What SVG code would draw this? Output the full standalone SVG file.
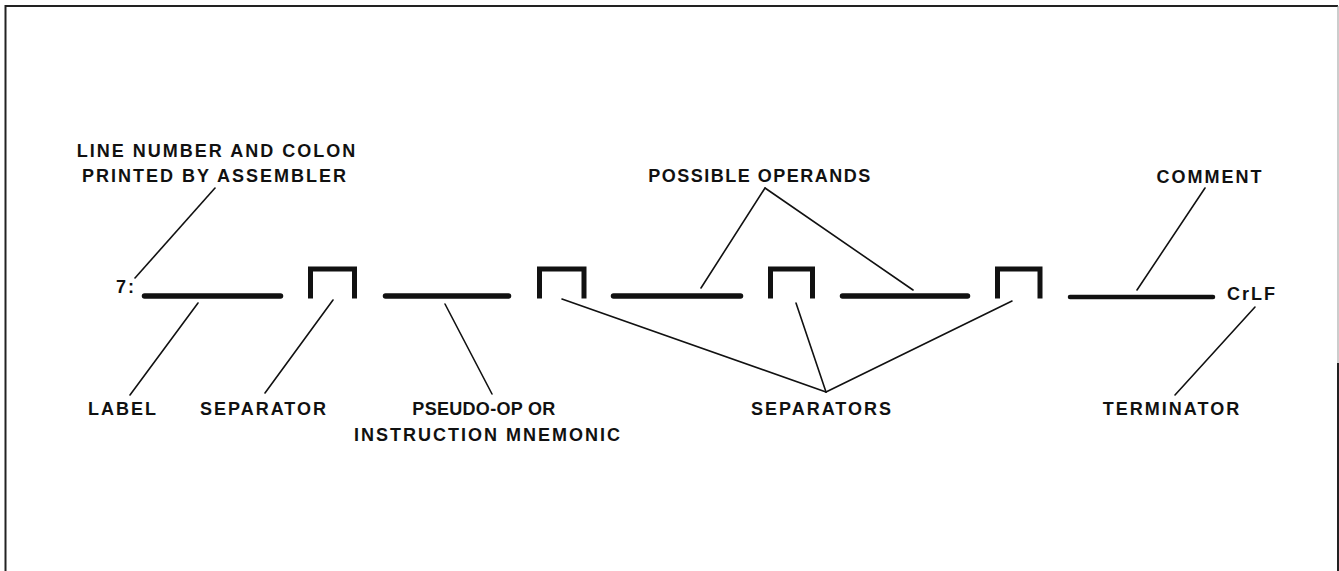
<svg xmlns="http://www.w3.org/2000/svg" width="1339" height="571" viewBox="0 0 1339 571">
  <style>
    .t { font-family: "Liberation Sans", Arial, sans-serif; font-weight: bold; font-size: 18px; fill: #111; letter-spacing: 2px; }
    .m { text-anchor: middle; }
    .seg { stroke: #111; stroke-width: 5.5; stroke-linecap: round; fill: none; }
    .sep { stroke: #111; stroke-width: 5; stroke-linejoin: miter; stroke-linecap: butt; fill: none; }
    .ld { stroke: #111; stroke-width: 1.6; fill: none; stroke-linecap: round; }
  </style>
  <rect width="1339" height="571" fill="#fff"/>
  <g id="frame" fill="none">
    <path d="M5.5,571 V6 H1338" stroke="#222" stroke-width="2"/>
    <path d="M1338,6 V363" stroke="#999" stroke-width="1"/>
    <path d="M1338,363 V571" stroke="#222" stroke-width="2"/>
  </g>

  <g id="line-number">
    <text class="t" x="116" y="293">7:</text>
  </g>
  <g id="field-label"><line class="seg" x1="144.5" y1="296" x2="280.5" y2="296"/></g>
  <g id="sep-1"><path class="sep" d="M310.5,298.5 V269 H354.5 V298.5"/></g>
  <g id="field-mnemonic"><line class="seg" x1="385.5" y1="296" x2="508.5" y2="296"/></g>
  <g id="sep-2"><path class="sep" d="M539.5,298.5 V269 H584 V298.5"/></g>
  <g id="field-operand-1"><line class="seg" x1="613.5" y1="296" x2="740.5" y2="296"/></g>
  <g id="sep-3"><path class="sep" d="M770.5,298.5 V269 H812.5 V298.5"/></g>
  <g id="field-operand-2"><line class="seg" x1="842.5" y1="296" x2="967.5" y2="296"/></g>
  <g id="sep-4"><path class="sep" d="M997.5,298.5 V269 H1040 V298.5"/></g>
  <g id="field-comment"><line class="seg" x1="1070" y1="297" x2="1213" y2="297" style="stroke-width:4.5"/></g>
  <g id="crlf"><text class="t" x="1227" y="300">CrLF</text></g>

  <g id="note-line-number">
    <text class="t m" x="217" y="157">LINE NUMBER AND COLON</text>
    <text class="t m" x="215" y="182">PRINTED BY ASSEMBLER</text>
  </g>
  <g id="note-operands"><text class="t m" x="760" y="182" style="letter-spacing:1.5px">POSSIBLE OPERANDS</text></g>
  <g id="note-comment"><text class="t m" x="1210" y="183">COMMENT</text></g>
  <g id="note-label"><text class="t m" x="123" y="415">LABEL</text></g>
  <g id="note-separator"><text class="t m" x="264" y="415">SEPARATOR</text></g>
  <g id="note-mnemonic">
    <text class="t m" x="484" y="415" style="letter-spacing:0.3px">PSEUDO-OP OR</text>
    <text class="t m" x="488" y="441">INSTRUCTION MNEMONIC</text>
  </g>
  <g id="note-separators"><text class="t m" x="822" y="415">SEPARATORS</text></g>
  <g id="note-terminator"><text class="t m" x="1172" y="415">TERMINATOR</text></g>

  <g id="connectors">
    <line class="ld" x1="215" y1="188" x2="135" y2="278"/>
    <line class="ld" x1="198" y1="303" x2="130" y2="395"/>
    <line class="ld" x1="333" y1="300" x2="265" y2="393"/>
    <line class="ld" x1="445" y1="304" x2="492" y2="394"/>
    <line class="ld" x1="765" y1="188" x2="701" y2="288"/>
    <line class="ld" x1="765" y1="188" x2="913" y2="290"/>
    <line class="ld" x1="1205" y1="188" x2="1137" y2="290"/>
    <line class="ld" x1="826" y1="392" x2="562" y2="299"/>
    <line class="ld" x1="826" y1="392" x2="796" y2="303"/>
    <line class="ld" x1="826" y1="392" x2="1012" y2="301"/>
    <line class="ld" x1="1255" y1="307" x2="1175" y2="395"/>
  </g>
</svg>
